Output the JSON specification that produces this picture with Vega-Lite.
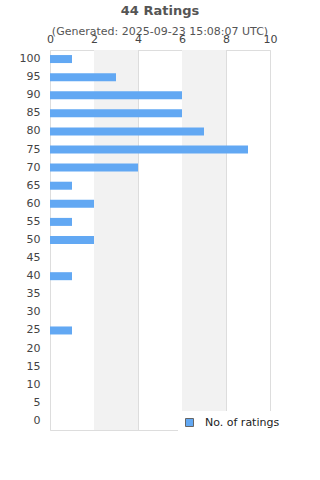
{
  "$schema": "https://vega.github.io/schema/vega-lite/v6.json",
  "autosize": {"type": "none"},
  "padding": {"left": 50, "top": 50, "right": 50, "bottom": 50},
  "width": 220,
  "height": 380,
  "background": "white",
  "title": {
    "text": "44 Ratings",
    "subtitle": "(Generated: 2025-09-23 15:08:07 UTC)",
    "font": "DejaVu Sans",
    "fontSize": 13,
    "fontWeight": "bold",
    "color": "#555",
    "subtitleFont": "DejaVu Sans",
    "subtitleFontSize": 11,
    "subtitleColor": "#555",
    "subtitlePadding": 8,
    "offset": -4
  },
  "config": {
    "view": {"stroke": "#ddd", "strokeWidth": 1},
    "axis": {"labelFont": "DejaVu Sans", "labelFontSize": 11, "labelColor": "#444", "ticks": false, "domain": false, "title": null}
  },
  "layer": [
    {
      "data": {"values": [{"x0": 2, "x1": 4}, {"x0": 6, "x1": 8}]},
      "mark": {"type": "rect", "color": "#f2f2f2"},
      "encoding": {
        "x": {"field": "x0", "type": "quantitative", "scale": {"domain": [0, 10]}},
        "x2": {"field": "x1"}
      }
    },
    {
      "data": {"values": [
        {"score": 100, "count": 1},
        {"score": 95, "count": 3},
        {"score": 90, "count": 6},
        {"score": 85, "count": 6},
        {"score": 80, "count": 7},
        {"score": 75, "count": 9},
        {"score": 70, "count": 4},
        {"score": 65, "count": 1},
        {"score": 60, "count": 2},
        {"score": 55, "count": 1},
        {"score": 50, "count": 2},
        {"score": 45, "count": 0},
        {"score": 40, "count": 1},
        {"score": 35, "count": 0},
        {"score": 30, "count": 0},
        {"score": 25, "count": 1},
        {"score": 20, "count": 0},
        {"score": 15, "count": 0},
        {"score": 10, "count": 0},
        {"score": 5, "count": 0},
        {"score": 0, "count": 0}
      ]},
      "mark": {"type": "bar", "size": 8},
      "encoding": {
        "y": {"field": "score", "type": "ordinal", "sort": "descending",
              "axis": {"labelPadding": 10, "grid": false}},
        "x": {"field": "count", "type": "quantitative",
              "scale": {"domain": [0, 10]},
              "axis": {"orient": "top", "values": [0, 2, 4, 6, 8, 10], "grid": true, "gridColor": "#ddd", "labelPadding": 6, "labelFlush": false}},
        "color": {"datum": "No. of ratings", "type": "nominal",
                  "scale": {"range": ["#62a8f3"]},
                  "legend": {"title": null, "orient": "none", "legendX": 128, "legendY": 361,
                             "fillColor": "white", "padding": 6, "symbolType": "square", "symbolSize": 64,
                             "symbolStrokeColor": "#666", "symbolStrokeWidth": 1,
                             "labelFont": "DejaVu Sans", "labelFontSize": 11, "labelColor": "#222", "labelOffset": 10}}
      }
    }
  ]
}
